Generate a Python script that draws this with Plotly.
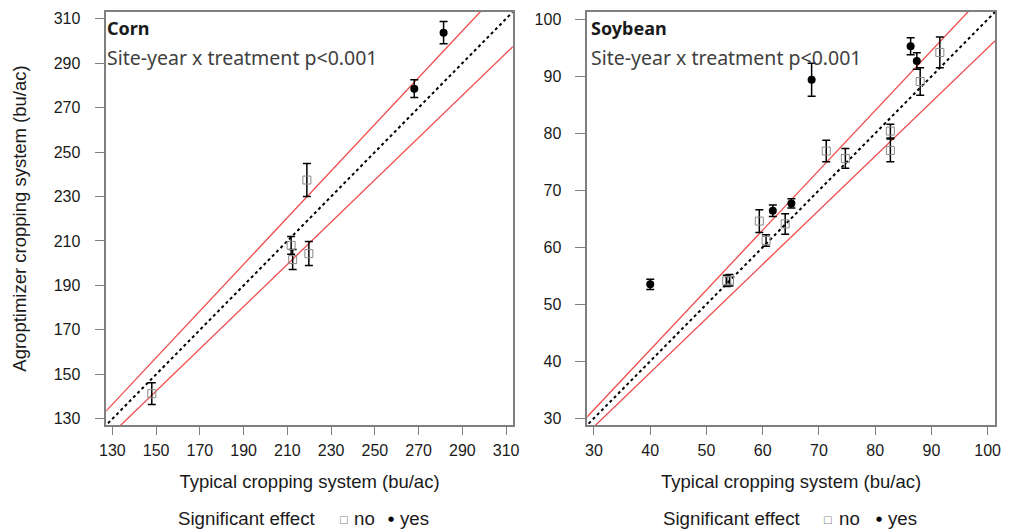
import plotly.graph_objects as go

# ---- Corn data ----
corn_no_x = [148.0, 211.7, 212.4, 219.8, 218.9]
corn_no_y = [141.3, 208.0, 201.6, 204.3, 237.4]
corn_no_err = [4.9, 4.0, 4.5, 5.4, 7.4]
corn_yes_x = [268.0, 281.4]
corn_yes_y = [278.5, 303.7]
corn_yes_err = [4.0, 5.0]

# ---- Soybean data ----
soy_no_x = [53.6, 54.1, 59.4, 60.6, 64.0, 71.3, 74.7, 82.7, 82.7, 88.0, 91.5]
soy_no_y = [54.1, 54.2, 64.6, 61.2, 64.1, 76.9, 75.6, 80.4, 77.0, 89.1, 94.2]
soy_no_err = [1.0, 1.0, 2.0, 1.0, 1.8, 1.9, 1.75, 1.2, 2.0, 2.4, 2.7]
soy_yes_x = [40.0, 61.8, 65.1, 68.7, 86.3, 87.4]
soy_yes_y = [53.5, 66.4, 67.7, 89.4, 95.3, 92.7]
soy_yes_err = [0.9, 1.0, 0.8, 2.9, 1.5, 1.45]

corn_ticks = list(range(130, 311, 20))
soy_ticks = list(range(30, 101, 10))
corn_range = [127.2, 313.0]
soy_range = [28.8, 101.3]

legend_title = "Significant effect"
legend_labels = ["no", "yes"]

RED = "#ee4b4b"
GRAY_SQ = "#8a8a8a"
FONT_TICK = "Liberation Sans, Arial, sans-serif"
FONT_TXT = "Noto Sans, Open Sans, sans-serif"
TXT_COL = "#1a1a1a"

fig = go.Figure()

def add_panel(xa, ya, rng, nx, ny, ne, yx, yy, ye):
    lx = [rng[0] - 5, rng[1] + 5]
    fig.add_trace(go.Scatter(x=lx, y=[v * 1.05 for v in lx], mode="lines",
                             line=dict(color=RED, width=1.3), xaxis=xa, yaxis=ya,
                             showlegend=False, hoverinfo="skip"))
    fig.add_trace(go.Scatter(x=lx, y=[v * 0.95 for v in lx], mode="lines",
                             line=dict(color=RED, width=1.3), xaxis=xa, yaxis=ya,
                             showlegend=False, hoverinfo="skip"))
    fig.add_trace(go.Scatter(x=lx, y=lx, mode="lines",
                             line=dict(color="black", width=2, dash="3px,3px"),
                             xaxis=xa, yaxis=ya, showlegend=False, hoverinfo="skip"))
    fig.add_trace(go.Scatter(x=nx, y=ny, mode="markers", name=legend_labels[0],
                             marker=dict(symbol="square-open", size=8, color=GRAY_SQ,
                                         line=dict(width=1, color=GRAY_SQ)),
                             error_y=dict(type="data", array=ne, color="black",
                                          thickness=1.5, width=4),
                             xaxis=xa, yaxis=ya, showlegend=False))
    fig.add_trace(go.Scatter(x=yx, y=yy, mode="markers", name=legend_labels[1],
                             marker=dict(symbol="circle", size=8, color="black"),
                             error_y=dict(type="data", array=ye, color="black",
                                          thickness=1.5, width=4),
                             xaxis=xa, yaxis=ya, showlegend=False))

add_panel("x", "y", corn_range, corn_no_x, corn_no_y, corn_no_err,
          corn_yes_x, corn_yes_y, corn_yes_err)
add_panel("x2", "y2", soy_range, soy_no_x, soy_no_y, soy_no_err,
          soy_yes_x, soy_yes_y, soy_yes_err)

base_axis = dict(showline=True, linecolor="#7f7f7f", linewidth=1.5, mirror=True,
                 ticks="outside", tickcolor="#7f7f7f", tickwidth=1,
                 showgrid=False, zeroline=False,
                 tickfont=dict(family=FONT_TICK, size=16, color=TXT_COL))
x_axis_common = dict(base_axis, ticklen=8, ticklabelstandoff=2)
y_axis_common = dict(base_axis, ticklen=10, ticklabelstandoff=11)

title_font = dict(family=FONT_TICK, size=18.5, color=TXT_COL)
legend_font = dict(family=FONT_TICK, size=18.7, color=TXT_COL)

W = 1021.0
def px(x):
    return x / W

def py(y):
    return (425.0 - y) / 413.0

annotations = [
    dict(text="<b>Corn</b>", xref="x domain", yref="y domain", x=-0.004, y=0.994,
         xanchor="left", yanchor="top", showarrow=False,
         font=dict(family=FONT_TXT, size=18, color=TXT_COL)),
    dict(text="Site-year x treatment p<0.001", xref="x domain", yref="y domain",
         x=-0.004, y=0.928, xanchor="left", yanchor="top", showarrow=False,
         font=dict(family=FONT_TXT, size=19.5, color="#404040")),
    dict(text="<b>Soybean</b>", xref="x2 domain", yref="y2 domain", x=0.005, y=0.994,
         xanchor="left", yanchor="top", showarrow=False,
         font=dict(family=FONT_TXT, size=18, color=TXT_COL)),
    dict(text="Site-year x treatment p<0.001", xref="x2 domain", yref="y2 domain",
         x=0.005, y=0.928, xanchor="left", yanchor="top", showarrow=False,
         font=dict(family=FONT_TXT, size=19.5, color="#404040")),
]

# legends (one under each panel), drawn as text
for (tx_right, sqx, nox, dotx, yesx) in [(315, 341, 350, 389.5, 396), (807, 832, 842, 884, 891)]:
    yy = py(518)
    annotations += [
        dict(text=legend_title, xref="paper", yref="paper", x=px(tx_right), y=yy,
             xanchor="right", yanchor="middle", showarrow=False, font=legend_font),
        dict(text="\u25a1", xref="paper", yref="paper", x=px(sqx), y=py(519), xanchor="center",
             yanchor="middle", showarrow=False,
             font=dict(family="DejaVu Sans", size=10, color=GRAY_SQ)),
        dict(text=legend_labels[0], xref="paper", yref="paper", x=px(nox), y=yy,
             xanchor="left", yanchor="middle", showarrow=False, font=legend_font),
        dict(text="\u25cf", xref="paper", yref="paper", x=px(dotx), y=py(519), xanchor="center",
             yanchor="middle", showarrow=False,
             font=dict(family="DejaVu Sans", size=7, color="black")),
        dict(text=legend_labels[1], xref="paper", yref="paper", x=px(yesx), y=yy,
             xanchor="left", yanchor="middle", showarrow=False, font=legend_font),
    ]

fig.update_layout(
    width=1021, height=529,
    margin=dict(l=0, r=0, t=12, b=104),
    plot_bgcolor="white", paper_bgcolor="white",
    showlegend=False,
    xaxis=dict(domain=[0.0986, 0.5022], range=corn_range, tickvals=corn_ticks,
               anchor="y",
               title=dict(text="Typical cropping system (bu/ac)", standoff=17,
                          font=title_font),
               **x_axis_common),
    yaxis=dict(domain=[0, 1], range=corn_range, tickvals=corn_ticks, anchor="x",
               title=dict(text="Agroptimizer cropping system (bu/ac)", standoff=22,
                          font=title_font),
               **y_axis_common),
    xaxis2=dict(domain=[0.5762, 0.9811], range=soy_range, tickvals=soy_ticks,
                anchor="y2",
                title=dict(text="Typical cropping system (bu/ac)", standoff=17,
                           font=title_font),
                **x_axis_common),
    yaxis2=dict(domain=[0, 1], range=soy_range, tickvals=soy_ticks, anchor="x2",
                **y_axis_common),
    annotations=annotations,
)

fig.write_html("out.html")
